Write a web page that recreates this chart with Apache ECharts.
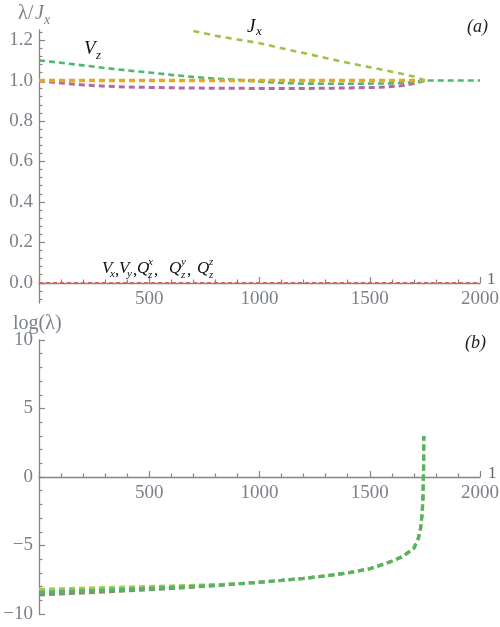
<!DOCTYPE html>
<html>
<head>
<meta charset="utf-8">
<script src="https://cdn.jsdelivr.net/npm/echarts@6/dist/echarts.min.js"></script>
<style>
  html, body { margin: 0; padding: 0; background: #fff; }
  #chart { width: 500px; height: 627px; }
</style>
</head>
<body>
<div id="chart"></div>
<script>
  // panel (a): lambda / Jx
  var jxX = [700, 800, 900, 1000, 1100, 1200, 1300, 1400, 1500, 1600, 1700, 1750];
  var jxY = [1.245, 1.222, 1.203, 1.185, 1.16, 1.136, 1.112, 1.088, 1.066, 1.044, 1.02, 1.0];
  var vzX = [0, 100, 200, 300, 400, 500, 600, 700, 800, 900, 1000, 1100, 1200, 1400, 1600, 1700, 1750, 2000];
  var vzY = [1.1, 1.088, 1.075, 1.062, 1.05, 1.04, 1.028, 1.018, 1.01, 1.004, 0.995, 0.988, 0.985, 0.984, 0.986, 0.992, 1.0, 1.0];
  var orX = [0, 1750];
  var orY = [1.0, 1.0];
  var mgX = [0, 100, 200, 300, 400, 600, 800, 1000, 1200, 1400, 1550, 1650, 1700, 1750];
  var mgY = [0.998, 0.988, 0.978, 0.972, 0.968, 0.964, 0.962, 0.961, 0.961, 0.963, 0.967, 0.975, 0.985, 1.0];
  var zeroX = [0, 2000];
  var zeroY = [0, 0];
  var topMajor = [0, 0.2, 0.4, 0.6, 0.8, 1.0, 1.2];
  var topMinor = [-0.08, -0.04, 0.04, 0.08, 0.12, 0.16, 0.24, 0.28, 0.32, 0.36, 0.44, 0.48, 0.52, 0.56,
                  0.64, 0.68, 0.72, 0.76, 0.84, 0.88, 0.92, 0.96, 1.04, 1.08, 1.12, 1.16, 1.24];

  // panel (b): log(lambda)
  var headX = [0, 100, 200, 300, 400, 500, 600, 700, 800];
  var ygHeadY = [-8.2, -8.16, -8.12, -8.08, -8.04, -8.0, -7.96, -7.91, -7.86];
  var grHeadY = [-8.4, -8.35, -8.3, -8.25, -8.19, -8.13, -8.06, -7.99, -7.91];
  var dkHeadY = [-8.6, -8.53, -8.46, -8.39, -8.31, -8.23, -8.14, -8.04, -7.93];
  var tailX = [900, 1000, 1100, 1200, 1300, 1400, 1500, 1600, 1650, 1700, 1720, 1730, 1738, 1742, 1744, 1745];
  var tailY = [-7.8, -7.68, -7.55, -7.4, -7.22, -7.0, -6.7, -6.15, -5.8, -5.2, -4.5, -3.8, -2.6, -1.2, 0.5, 3.0];

  var axisGray = '#858585';
  var labelGray = '#7b8089';
  var serif = '"Liberation Serif", "DejaVu Serif", serif';

  function pairs(xs, ys) {
    return xs.map(function (x, i) { return [x, ys[i]]; });
  }

  function ln(xs, ys, color, width, dash, xi, yi) {
    return {
      type: 'line',
      xAxisIndex: xi,
      yAxisIndex: yi,
      data: pairs(xs, ys),
      showSymbol: false,
      smooth: false,
      lineStyle: { color: color, width: width, type: dash, cap: 'butt' }
    };
  }

  // x axis sits on y = 0, moved up from the grid bottom by "off" px
  function xAx(gi, off) {
    return {
      type: 'value',
      gridIndex: gi,
      position: 'bottom',
      offset: off,
      min: 0,
      max: 2000,
      interval: 500,
      axisLine: { onZero: false, lineStyle: { color: axisGray, width: 1.3 } },
      axisTick: { inside: true, length: 6, lineStyle: { color: axisGray, width: 1.2 } },
      minorTick: { show: true, splitNumber: 5, length: 3.5, lineStyle: { color: axisGray, width: 1.2 } },
      axisLabel: {
        margin: 7, color: labelGray, fontFamily: serif, fontSize: 19,
        formatter: function (v) { return v === 0 ? '' : String(v); }
      },
      splitLine: { show: false },
      minorSplitLine: { show: false }
    };
  }

  function txt(x, y, s, size, color, style) {
    return {
      type: 'text', x: x, y: y, z: 100,
      style: {
        text: s,
        font: (style || 'normal') + ' ' + size + 'px ' + serif,
        fill: color,
        textAlign: 'left',
        textVerticalAlign: 'middle'
      }
    };
  }

  var graphics = [
    // axis titles
    txt(18, 14, '\u03bb/', 20, labelGray), txt(35, 14, 'J', 20, labelGray, 'italic'), txt(44, 20, 'x', 14, labelGray, 'italic'),
    txt(13, 324, 'log(\u03bb)', 20, labelGray),
    txt(487, 280, '1', 17, '#666'),
    txt(488, 474, '1', 17, '#666'),
    // panel tags
    txt(467, 27, '(a)', 18, '#222', 'italic'),
    txt(465, 343, '(b)', 18, '#222', 'italic'),
    // curve labels
    txt(84, 49, 'V', 19, '#111', 'italic'), txt(96, 56, 'z', 13, '#111', 'italic'),
    txt(247, 27, 'J', 19, '#111', 'italic'), txt(256, 32, 'x', 13, '#111', 'italic'),
    // Vx, Vy, Qz^x, Qz^y, Qz^z
    txt(102, 269, 'V', 17, '#111', 'italic'), txt(110, 274, 'x', 11, '#111', 'italic'), txt(115, 271, ',', 17, '#111'),
    txt(119, 269, 'V', 17, '#111', 'italic'), txt(127, 274, 'y', 11, '#111', 'italic'), txt(133, 271, ',', 17, '#111'),
    txt(137, 269, 'Q', 17, '#111', 'italic'), txt(148, 275, 'z', 11, '#111', 'italic'), txt(148, 262, 'x', 11, '#111', 'italic'), txt(154, 271, ',', 17, '#111'),
    txt(169, 269, 'Q', 17, '#111', 'italic'), txt(181, 275, 'z', 11, '#111', 'italic'), txt(181, 262, 'y', 11, '#111', 'italic'), txt(187, 271, ',', 17, '#111'),
    txt(197, 269, 'Q', 17, '#111', 'italic'), txt(209, 275, 'z', 11, '#111', 'italic'), txt(209, 262, 'z', 11, '#111', 'italic')
  ];

  var chart = echarts.init(document.getElementById('chart'), null, { renderer: 'canvas' });
  var option = {
    animation: false,
    backgroundColor: '#fff',
    grid: [
      { left: 39, right: 20, top: 30, height: 273, containLabel: false, outerBoundsMode: 'none' },
      { left: 39, right: 20, top: 340, height: 274, containLabel: false, outerBoundsMode: 'none' }
    ],
    xAxis: [xAx(0, -20), xAx(1, -137)],
    yAxis: [
      {
        type: 'value', gridIndex: 0, position: 'left', min: -0.1, max: 1.25,
        axisLine: { show: true, onZero: false, lineStyle: { color: axisGray, width: 1.3 } },
        axisTick: { show: true, inside: true, length: 6, customValues: topMajor, lineStyle: { color: axisGray, width: 1.2 } },
        axisLabel: {
          customValues: topMajor, margin: 6, color: labelGray, fontFamily: serif, fontSize: 19,
          formatter: function (v) { return Number(v).toFixed(1); }
        },
        splitLine: { show: false }
      },
      {
        type: 'value', gridIndex: 0, position: 'left', min: -0.1, max: 1.25,
        axisLine: { show: false },
        axisTick: { show: true, inside: true, length: 3.5, customValues: topMinor, lineStyle: { color: axisGray, width: 1.2 } },
        axisLabel: { show: false },
        splitLine: { show: false }
      },
      {
        type: 'value', gridIndex: 1, position: 'left', min: -10, max: 10, interval: 5,
        axisLine: { show: true, onZero: false, lineStyle: { color: axisGray, width: 1.3 } },
        axisTick: { show: true, inside: true, length: 6, lineStyle: { color: axisGray, width: 1.2 } },
        minorTick: { show: true, splitNumber: 5, length: 3.5, lineStyle: { color: axisGray, width: 1.2 } },
        axisLabel: {
          margin: 6, color: labelGray, fontFamily: serif, fontSize: 19,
          formatter: function (v) { return String(v).replace('-', '\u2212'); }
        },
        splitLine: { show: false },
        minorSplitLine: { show: false }
      }
    ],
    graphic: graphics,
    series: [
      ln(zeroX, zeroY, '#d9625c', 1.6, [4, 3], 0, 0),
      ln(mgX, mgY, '#b06aa3', 3, [6, 4], 0, 0),
      ln(vzX, vzY, '#4fb870', 2.6, [6, 4], 0, 0),
      ln(orX, orY, '#e6a91e', 3.6, [6, 4], 0, 0),
      ln(jxX, jxY, '#9cc247', 2.6, [6, 5], 0, 0),
      ln(headX.concat(tailX), dkHeadY.concat(tailY), '#7c9466', 3.2, [6, 4], 1, 2),
      ln(headX.concat(tailX), ygHeadY.concat(tailY), '#a9c84e', 3.2, [6, 4], 1, 2),
      ln(headX.concat(tailX), grHeadY.concat(tailY), '#55b46a', 3.2, [6, 4], 1, 2)
    ]
  };
  chart.setOption(option);
</script>
</body>
</html>
